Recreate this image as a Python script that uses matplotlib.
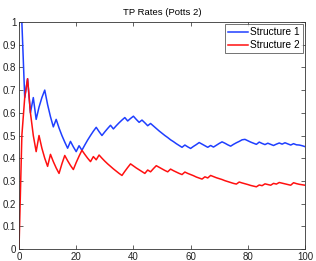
import matplotlib
matplotlib.use("Agg")
import matplotlib.pyplot as plt
import numpy as np

plt.rcParams['font.family'] = ['Liberation Sans', 'DejaVu Sans']

title = "TP Rates (Potts 2)"
series_names = ["Structure 1", "Structure 2"]

structure1 = [1.0, 1.0, 0.667, 0.75, 0.6, 0.667, 0.571, 0.625, 0.667, 0.7,
              0.636, 0.583, 0.538, 0.571, 0.533, 0.5, 0.471, 0.444, 0.474, 0.45,
              0.429, 0.455, 0.435, 0.458, 0.48, 0.5, 0.519, 0.536, 0.517, 0.5,
              0.516, 0.531, 0.545, 0.529, 0.543, 0.556, 0.568, 0.579, 0.564, 0.575,
              0.585, 0.571, 0.558, 0.568, 0.556, 0.543, 0.553, 0.542, 0.531, 0.52,
              0.510, 0.5, 0.491, 0.481, 0.473, 0.464, 0.456, 0.448, 0.458, 0.45,
              0.443, 0.452, 0.460, 0.469, 0.462, 0.455, 0.448, 0.456, 0.449, 0.457,
              0.465, 0.472, 0.466, 0.459, 0.453, 0.461, 0.468, 0.474, 0.481, 0.483,
              0.477, 0.471, 0.466, 0.461, 0.471, 0.465, 0.460, 0.466, 0.461, 0.456,
              0.462, 0.467, 0.462, 0.468, 0.463, 0.458, 0.464, 0.459, 0.458, 0.455,
              0.451]

structure2 = [0.0, 0.5, 0.667, 0.75, 0.6, 0.5, 0.429, 0.5, 0.444, 0.4,
              0.364, 0.417, 0.385, 0.357, 0.333, 0.375, 0.412, 0.389, 0.368, 0.35,
              0.381, 0.409, 0.435, 0.417, 0.4, 0.385, 0.407, 0.393, 0.414, 0.4,
              0.387, 0.375, 0.364, 0.353, 0.343, 0.333, 0.324, 0.342, 0.359, 0.375,
              0.366, 0.357, 0.349, 0.341, 0.333, 0.348, 0.340, 0.354, 0.367, 0.36,
              0.353, 0.346, 0.340, 0.352, 0.345, 0.339, 0.333, 0.328, 0.339, 0.333,
              0.328, 0.323, 0.317, 0.3125, 0.308, 0.318, 0.313, 0.324, 0.319, 0.314,
              0.310, 0.306, 0.301, 0.297, 0.293, 0.289, 0.286, 0.295, 0.291, 0.2875,
              0.284, 0.280, 0.277, 0.274, 0.282, 0.279, 0.287, 0.284, 0.281, 0.289,
              0.286, 0.293, 0.290, 0.287, 0.284, 0.281, 0.292, 0.288, 0.285, 0.283,
              0.281]

x_ticks = [0, 20, 40, 60, 80, 100]
y_ticks = [0, 0.1, 0.2, 0.3, 0.4, 0.5, 0.6, 0.7, 0.8, 0.9, 1]
y_tick_labels = ["0", "0.1", "0.2", "0.3", "0.4", "0.5", "0.6", "0.7", "0.8", "0.9", "1"]

x = np.arange(len(structure1))

fig = plt.figure(figsize=(3.16, 2.61), dpi=100)
ax = fig.add_axes([19/316, 1 - 249/261, (305 - 19)/316, (249 - 22)/261])

ax.plot(x, structure1, color='#1f3fff', lw=1.1, label=series_names[0])
ax.plot(x, structure2, color='#ff1010', lw=1.1, label=series_names[1])

ax.set_xlim(0, 100)
ax.set_ylim(0, 1)
ax.set_xticks(x_ticks)
ax.set_yticks(y_ticks)
ax.set_yticklabels(y_tick_labels)
ax.tick_params(direction='in', length=3, width=0.5, labelsize=7, pad=2,
               top=True, right=True, colors='#222222')
for s in ax.spines.values():
    s.set_linewidth(0.6)
    s.set_color('#333333')

ax.set_title(title, fontsize=6.8, pad=5)

leg = ax.legend(loc='upper right', fontsize=7.3, frameon=True, fancybox=False,
                borderaxespad=0.22, handlelength=1.9, handletextpad=0.25,
                borderpad=0.3, labelspacing=0.3)
leg.get_frame().set_edgecolor('#333333')
leg.get_frame().set_linewidth(0.6)

fig.savefig("out.png", dpi=100)
